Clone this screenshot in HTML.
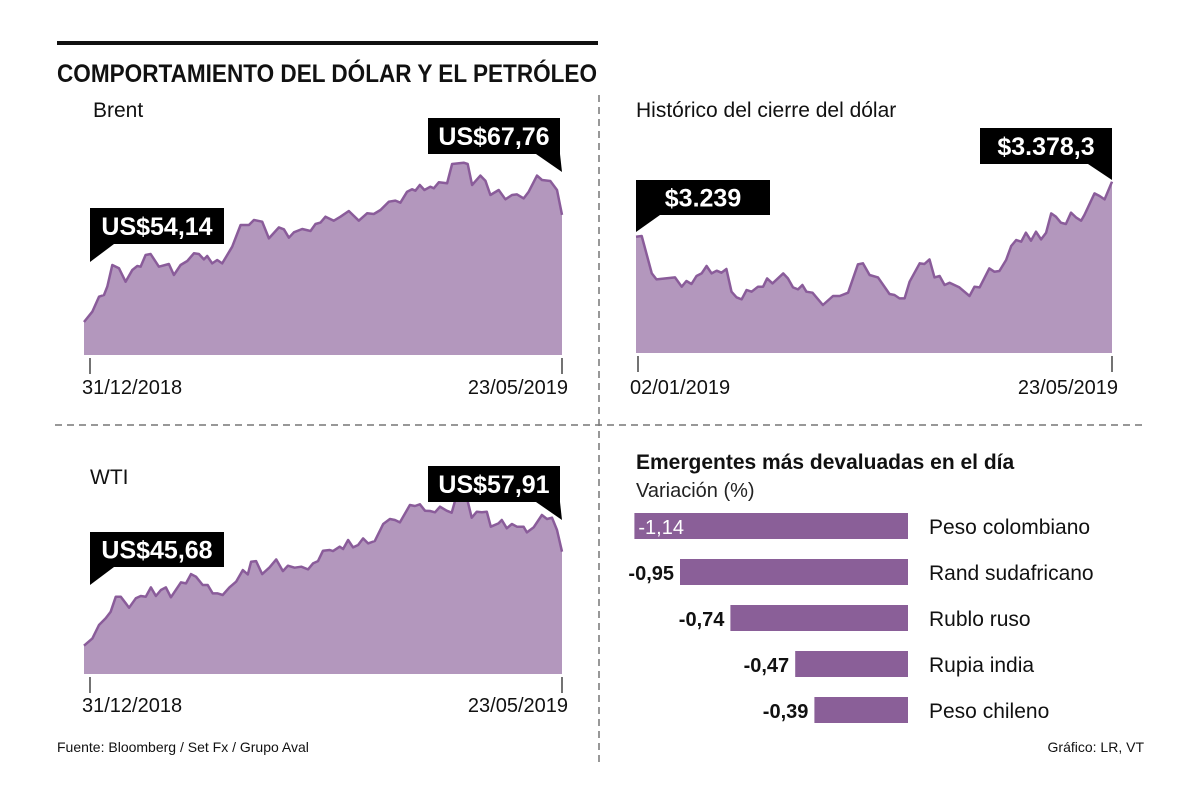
<!DOCTYPE html>
<html><head><meta charset="utf-8"><style>
html,body{margin:0;padding:0;background:#fff;}
svg{display:block;font-family:"Liberation Sans Narrow","Liberation Sans",sans-serif;}
</style></head><body>
<svg id="c" width="1200" height="789" viewBox="0 0 1200 789">
<rect x="57" y="41" width="541" height="4" fill="#111"/>
<text x="57" y="82" font-size="25" font-weight="bold" textLength="540" lengthAdjust="spacingAndGlyphs" fill="#111">COMPORTAMIENTO DEL DÓLAR Y EL PETRÓLEO</text>
<line x1="599" y1="95" x2="599" y2="762" stroke="#777" stroke-width="1.5" stroke-dasharray="7,5"/>
<line x1="55" y1="425" x2="1146" y2="425" stroke="#777" stroke-width="1.5" stroke-dasharray="7,5"/>
<text x="93" y="117" font-size="21" fill="#111">Brent</text>
<text x="636" y="117" font-size="21" fill="#111">Histórico del cierre del dólar</text>
<text x="90" y="484" font-size="21" fill="#111">WTI</text>
<text x="636" y="469" font-size="21" font-weight="bold" fill="#111">Emergentes más devaluadas en el día</text>
<text x="636" y="497" font-size="20" fill="#222">Variación (%)</text>
<text x="57" y="752" font-size="14" fill="#111">Fuente: Bloomberg / Set Fx / Grupo Aval</text>
<text x="1144" y="752" font-size="14" fill="#111" text-anchor="end">Gráfico: LR, VT</text>
<g id="g"></g>
</svg>
<script>
// Brent
const brentDays=[0,2.5,4.5,6,7,8.5,10.5,12.5,14.5,16,17,18.5,20,22.5,25.5,27,29,31,33,34.5,36,37,38.5,40,41.5,44.5,47,49.5,51,53.5,55.5,58.5,60,61.5,63,65.5,68,69.5,71,72.5,75,77,79.5,82.5,85,87,89,91.5,93.5,95,97,98.5,99.5,100.8,102.2,104,105,106.5,109,110.5,114,115.2,116.5,119,120.5,122,124.5,126.5,128.5,130,132,133.5,136,137.5,140,142,143.5];
const brentValues=[54.14,55.45,57.36,57.58,58.64,61.39,60.97,59.27,60.76,61.26,61.18,62.66,62.79,61.18,61.52,60.12,61.39,61.90,62.88,62.79,62.11,62.54,61.60,62.03,61.60,63.72,66.48,66.48,67.12,66.90,64.78,66.18,65.93,64.87,65.55,65.97,65.72,66.61,66.78,67.54,67.03,67.54,68.26,67.03,67.97,67.88,68.39,69.45,69.58,69.32,70.72,71.02,70.85,71.57,70.93,71.36,71.15,71.91,71.78,74.24,74.41,74.24,71.57,72.76,72.12,70.30,70.93,69.75,70.30,70.38,69.87,70.72,72.76,72.21,72.08,70.93,67.76];
// Dollar
const usdDays=[0,1.7,4.7,6.1,11.6,13.6,15.0,16.5,18.0,19.5,21.0,22.5,24.0,25.4,26.9,28.4,29.9,31.4,32.9,34.4,36.3,37.8,39.0,40.6,43.8,45.2,46.7,48.2,49.5,50.7,52.5,55.6,58.6,60.6,63.1,66.0,67.5,69.5,72.0,75.4,76.9,78.4,79.9,81.4,84.4,85.8,87.3,88.8,90.3,91.8,93.3,96.2,99.2,100.7,102.2,105.1,106.6,108.1,110.1,111.6,113.1,114.6,116.0,117.5,119.0,120.5,122.0,123.5,124.9,126.4,127.9,129.4,130.9,132.4,133.4,136.4,137.9,139.4,141.6];
const usdValues=[3239,3240.7,3146.1,3130.9,3136.0,3112.4,3126.7,3119.1,3139.4,3146.1,3164.7,3146.1,3152.9,3147.8,3157.1,3099.7,3085.4,3080.3,3103.9,3099.7,3112.4,3112.4,3133.5,3120.8,3146.1,3133.5,3110.7,3105.6,3116.6,3099.7,3097.2,3065.9,3088.7,3088.7,3097.2,3168.9,3171.5,3141.9,3136.0,3093.8,3091.3,3082.8,3082.8,3125.0,3171.5,3169.8,3181.6,3136.0,3139.4,3116.6,3122.5,3110.7,3088.7,3112.4,3110.7,3158.8,3150.4,3152.0,3179.9,3215.4,3230.6,3226.3,3249.1,3228.9,3251.7,3232.2,3249.1,3298.1,3289.7,3274.5,3271.1,3299.8,3288.0,3279.5,3293.9,3348.7,3342.0,3333.5,3378.3];
// WTI
const wtiDays=[0,2.5,4.5,6.5,8,9.5,11,13.5,15.5,17,18.5,20,21.5,23,24.5,26,29,30.5,32,33.5,35.5,37,38.5,40,41.5,43.5,45.5,47.5,49,50,51.5,53.3,55.5,57.5,59.5,61,63,65,67,68.5,70,71.5,73.5,74.5,76.5,77.5,79,80.5,82,83.5,85,87,89.5,91.5,93,94.5,97.5,99,100.5,102,103.5,105,106.5,108.5,110,111.5,113.5,114.7,116,117.5,119,120.5,121.7,124,125,126.5,128,129.5,131.5,132.5,134.5,137,138.5,140,141.5,143];
const wtiValues=[45.68,46.63,48.37,49.24,50.10,52.05,52.05,50.62,51.84,52.14,52.05,53.27,52.14,52.92,53.27,51.97,53.92,53.79,55.00,54.66,53.57,53.57,52.49,52.49,52.27,53.27,54.01,55.52,54.96,56.61,56.69,55.00,55.87,56.91,55.39,56.09,55.83,55.96,55.61,56.39,56.69,58.04,58.13,57.99,58.56,58.26,59.43,58.47,58.78,59.64,58.99,59.30,61.51,62.16,62.03,61.72,63.98,63.85,64.07,63.24,63.20,63.03,63.76,63.24,62.98,65.28,65.50,64.63,62.33,63.11,63.03,63.11,61.16,61.59,62.03,60.95,61.51,61.16,61.16,60.42,61.07,62.68,62.16,62.33,60.73,57.91];
// Bars
const barCategories=["Peso colombiano","Rand sudafricano","Rublo ruso","Rupia india","Peso chileno"];
const barValues=[-1.14,-0.95,-0.74,-0.47,-0.39];
const barLabels=["-1,14","-0,95","-0,74","-0,47","-0,39"];

const NS="http://www.w3.org/2000/svg";
const g=document.getElementById('g');
function mk(t,a){const e=document.createElementNS(NS,t);for(const k in a)e.setAttribute(k,a[k]);g.appendChild(e);return e;}

function area(name,days,vals,x0,x1,dmax,y0v,y0px,k,bottom){
  const xs=d=>x0+d/dmax*(x1-x0);
  const ys=v=>y0px-(v-y0v)*k;
  let pts=days.map((d,i)=>xs(d).toFixed(1)+","+ys(vals[i]).toFixed(1));
  const a=mk('polygon',{points:xs(0)+","+bottom+" "+pts.join(" ")+" "+xs(dmax)+","+bottom,fill:"#b397bd"});
  
  
  const l=mk('polyline',{points:pts.join(" "),fill:"none",stroke:"#8a5c9a","stroke-width":"2.5","stroke-linejoin":"round"});
  
  
}
area('brent',brentDays,brentValues,84,562,143.5,54.14,322,7.86,355);
area('dollar',usdDays,usdValues,636,1112,141.6,3239,236.7,0.3948,353);
area('wti',wtiDays,wtiValues,84,562,143,45.68,645.7,7.687,674);

function tick(x,y1,lbl,anchor,ty,name){
  const t=mk('line',{x1:x,y1:y1,x2:x,y2:y1+16,stroke:"#444","stroke-width":"1.5"});
  
  
  const tx=mk('text',{x:x+(anchor==="start"?-8:6),y:ty,"font-size":"20",fill:"#111","text-anchor":anchor});
  tx.textContent=lbl;
  
  
}
tick(90,358,"31/12/2018","start",394,'brent-start');
tick(562,358,"23/05/2019","end",394,'brent-end');
tick(638,356,"02/01/2019","start",394,'dollar-start');
tick(1112,356,"23/05/2019","end",394,'dollar-end');
tick(90,677,"31/12/2018","start",712,'wti-start');
tick(562,677,"23/05/2019","end",712,'wti-end');

function callout(name,x,y,w,h,txt,side,px,py){
  const bx=mk('rect',{x:x,y:y,width:w,height:h,fill:"#000"});
  
  
  let tri=side==="left"?`${x},${y+h} ${x+24},${y+h} ${px},${py}`:`${x+w-24},${y+h} ${x+w},${y+h} ${px},${py}`;
  const p=mk('polygon',{points:tri,fill:"#000"});
  
  
  const t=mk('text',{x:x+w/2,y:y+h/2+9,"font-size":"25","font-weight":"bold",fill:"#fff","text-anchor":"middle"});
  t.textContent=txt;
  
  
}
callout('brent-start',90,208,134,36,"US$54,14","left",90,262);
callout('brent-end',428,118,132,36,"US$67,76","right",562,172);
callout('dollar-start',636,180,134,35,"$3.239","left",636,232);
callout('dollar-end',980,128,132,36,"$3.378,3","right",1112,180);
callout('wti-start',90,532,134,35,"US$45,68","left",90,585);
callout('wti-end',428,466,132,36,"US$57,91","right",562,520);

const barRight=908, barScale=240;
barCategories.forEach((c,i)=>{
  const y=513+i*46, w=-barValues[i]*barScale;
  const r=mk('rect',{x:barRight-w,y:y,width:w,height:26,fill:"#8a5f98"});
  
  
  const inside=i===0;
  const v=mk('text',{x:inside?barRight-w+4:barRight-w-6,y:y+21,"font-size":"20","font-weight":inside?"normal":"bold",fill:inside?"#fff":"#111","text-anchor":inside?"start":"end"});
  v.textContent=barLabels[i];
  
  
  const l=mk('text',{x:929,y:y+21,"font-size":"21",fill:"#111"});
  l.textContent=c;
  
  
});
</script>
</body></html>
